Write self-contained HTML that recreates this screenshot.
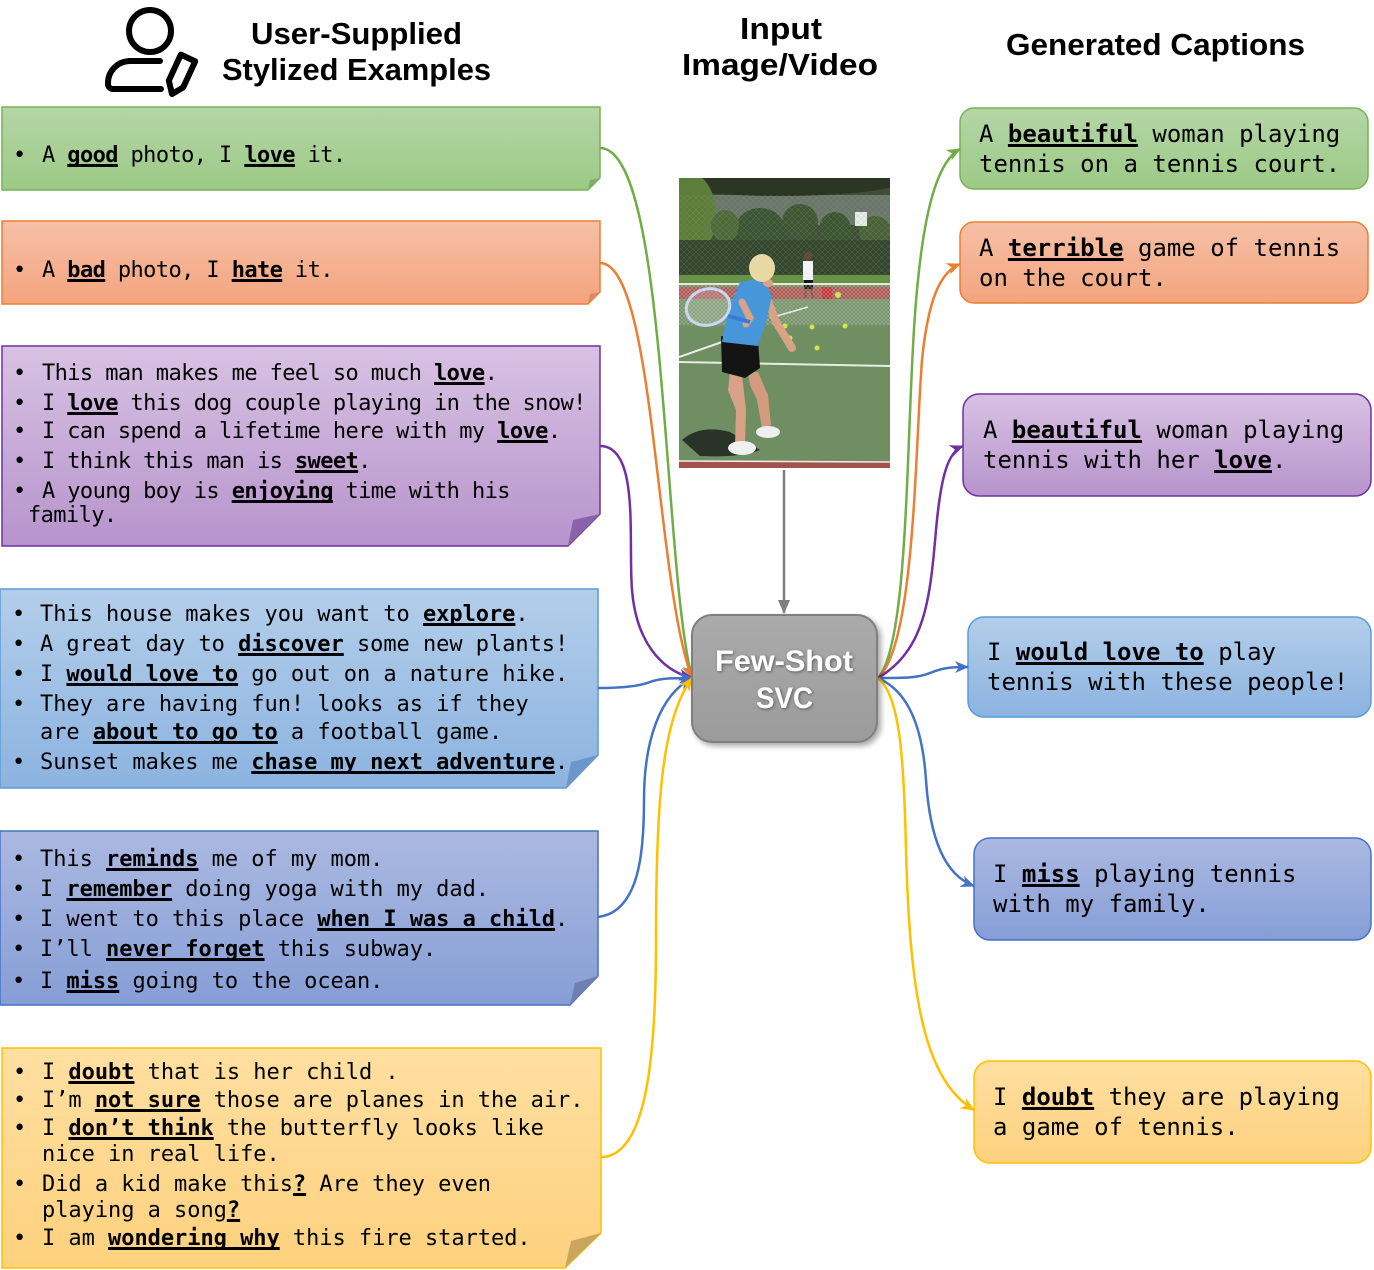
<!DOCTYPE html>
<html><head><meta charset="utf-8">
<style>
html,body{margin:0;padding:0;background:#fff;}
#wrap{position:relative;width:1374px;height:1270px;overflow:hidden;background:#fff;}
svg{position:absolute;left:0;top:0;}
.t{position:absolute;white-space:pre;font-family:"DejaVu Sans Mono","Liberation Mono",monospace;font-size:22px;line-height:22px;color:#000;}
.l1{letter-spacing:-0.6px;}
.l2{letter-spacing:-0.04px;}
.r{font-size:24px;line-height:24px;}
u{text-decoration:underline;text-decoration-thickness:3px;text-underline-offset:2px;text-decoration-skip-ink:none;font-weight:bold;}
</style></head>
<body><div id="wrap">
<svg width="1374" height="1270" viewBox="0 0 1374 1270">
<defs>
<linearGradient id="gG" x1="0" y1="0" x2="0" y2="1"><stop offset="0" stop-color="#b5d6a6"/><stop offset="1" stop-color="#9cca86"/></linearGradient>
<linearGradient id="gO" x1="0" y1="0" x2="0" y2="1"><stop offset="0" stop-color="#f6c0a7"/><stop offset="1" stop-color="#f4a47e"/></linearGradient>
<linearGradient id="gP" x1="0" y1="0" x2="0" y2="1"><stop offset="0" stop-color="#d8c2e3"/><stop offset="1" stop-color="#b794cc"/></linearGradient>
<linearGradient id="gB" x1="0" y1="0" x2="0" y2="1"><stop offset="0" stop-color="#b3ceea"/><stop offset="1" stop-color="#8cb3e0"/></linearGradient>
<linearGradient id="gB2" x1="0" y1="0" x2="0" y2="1"><stop offset="0" stop-color="#abb9e1"/><stop offset="1" stop-color="#869ed6"/></linearGradient>
<linearGradient id="gY" x1="0" y1="0" x2="0" y2="1"><stop offset="0" stop-color="#ffdfa1"/><stop offset="1" stop-color="#fdd17e"/></linearGradient>
<linearGradient id="gS" x1="0" y1="0" x2="0" y2="1"><stop offset="0" stop-color="#ababab"/><stop offset="1" stop-color="#9b9b9b"/></linearGradient>
<filter id="sh" x="-20%" y="-20%" width="150%" height="150%"><feDropShadow dx="3" dy="3" stdDeviation="3" flood-color="#000" flood-opacity="0.35"/></filter>
<filter id="tsh" x="-20%" y="-20%" width="150%" height="150%"><feDropShadow dx="1" dy="1" stdDeviation="1.5" flood-color="#000" flood-opacity="0.45"/></filter>
<pattern id="net" width="4" height="4" patternUnits="userSpaceOnUse"><path d="M0,0 L4,4 M4,0 L0,4" stroke="#dcdcdc" stroke-width="0.6" opacity="0.55"/></pattern>
<pattern id="fence" width="6" height="6" patternUnits="userSpaceOnUse"><path d="M0,0 L6,6 M6,0 L0,6" stroke="#9aa39a" stroke-width="0.5" opacity="0.35"/></pattern>
<clipPath id="imgc"><rect x="679" y="178" width="211" height="290"/></clipPath>
<marker id="aG" markerUnits="userSpaceOnUse" markerWidth="14" markerHeight="12" viewBox="0 0 14 12" refX="13" refY="6" orient="auto"><path d="M0,0 L14,6 L0,12 L4,6 Z" fill="#70ad47"/></marker>
<marker id="aO" markerUnits="userSpaceOnUse" markerWidth="14" markerHeight="12" viewBox="0 0 14 12" refX="13" refY="6" orient="auto"><path d="M0,0 L14,6 L0,12 L4,6 Z" fill="#ed7d31"/></marker>
<marker id="aP" markerUnits="userSpaceOnUse" markerWidth="14" markerHeight="12" viewBox="0 0 14 12" refX="13" refY="6" orient="auto"><path d="M0,0 L14,6 L0,12 L4,6 Z" fill="#7030a0"/></marker>
<marker id="aB" markerUnits="userSpaceOnUse" markerWidth="14" markerHeight="12" viewBox="0 0 14 12" refX="13" refY="6" orient="auto"><path d="M0,0 L14,6 L0,12 L4,6 Z" fill="#4472c4"/></marker>
<marker id="aY" markerUnits="userSpaceOnUse" markerWidth="14" markerHeight="12" viewBox="0 0 14 12" refX="13" refY="6" orient="auto"><path d="M0,0 L14,6 L0,12 L4,6 Z" fill="#ffc000"/></marker>
<marker id="aK" markerUnits="userSpaceOnUse" markerWidth="14" markerHeight="12" viewBox="0 0 14 12" refX="13" refY="6" orient="auto"><path d="M0,0 L14,6 L0,12 Z" fill="#7f7f7f"/></marker>
</defs>

<!-- header icon -->
<circle cx="150" cy="31" r="21" fill="none" stroke="#000" stroke-width="6"/>
<path d="M160,61 H130 A22,22 0 0 0 108,83 V84 A5,5 0 0 0 113,89 H161" fill="none" stroke="#000" stroke-width="6" stroke-linecap="round" stroke-linejoin="round"/>
<path d="M180.8,54.6 L195.2,61.4 L183.2,87.4 L172,94 L168.8,80.6 Z" fill="none" stroke="#000" stroke-width="6" stroke-linejoin="round"/>

<!-- headers -->
<g font-family="Liberation Sans, Arial, sans-serif" font-weight="bold" font-size="31" fill="#000">
<text x="251" y="44" textLength="211" lengthAdjust="spacingAndGlyphs">User-Supplied</text>
<text x="222" y="80" textLength="269" lengthAdjust="spacingAndGlyphs">Stylized Examples</text>
<text x="740" y="39" textLength="82" lengthAdjust="spacingAndGlyphs">Input</text>
<text x="682" y="75" textLength="196" lengthAdjust="spacingAndGlyphs">Image/Video</text>
<text x="1006" y="55" textLength="299" lengthAdjust="spacingAndGlyphs">Generated Captions</text>
</g>

<!-- left boxes -->
<polygon points="2,107 600,107 600,178 588,190 2,190" fill="url(#gG)" stroke="#77b255" stroke-width="1.5"/>
<polygon points="588,190 590,180 600,178" fill="#7fae65"/>
<polygon points="2,221 600,221 600,292 588,304 2,304" fill="url(#gO)" stroke="#ed7d31" stroke-width="1.5"/>
<polygon points="588,304 590,294 600,292" fill="#d98a62"/>
<polygon points="2,346 600,346 600,514 568,546 2,546" fill="url(#gP)" stroke="#7030a0" stroke-width="1.5"/>
<polygon points="568,546 573,520 600,514" fill="#8b62a9"/>
<polygon points="0,589 598,589 598,755 566,788 0,788" fill="url(#gB)" stroke="#5b9bd5" stroke-width="1.5"/>
<polygon points="566,788 571,762 598,755" fill="#6f96c8"/>
<polygon points="0,831 598,831 598,976 570,1005 0,1005" fill="url(#gB2)" stroke="#4472c4" stroke-width="1.5"/>
<polygon points="570,1005 575,983 598,976" fill="#6e80b2"/>
<polygon points="2,1048 601,1048 601,1233 565,1268 2,1268" fill="url(#gY)" stroke="#ffc000" stroke-width="1.5"/>
<polygon points="565,1268 571,1241 601,1233" fill="#c9a55d"/>

<!-- right boxes -->
<rect x="960" y="108" width="408" height="81" rx="14" fill="url(#gG)" stroke="#77b255" stroke-width="1.5"/>
<rect x="960" y="222" width="408" height="81" rx="14" fill="url(#gO)" stroke="#ed7d31" stroke-width="1.5"/>
<rect x="963" y="394" width="408" height="102" rx="16" fill="url(#gP)" stroke="#7030a0" stroke-width="1.5"/>
<rect x="968" y="617" width="403" height="100" rx="16" fill="url(#gB)" stroke="#5b9bd5" stroke-width="1.5"/>
<rect x="974" y="838" width="397" height="102" rx="16" fill="url(#gB2)" stroke="#4472c4" stroke-width="1.5"/>
<rect x="974" y="1061" width="397" height="102" rx="16" fill="url(#gY)" stroke="#ffc000" stroke-width="1.5"/>

<!-- tennis image -->
<g clip-path="url(#imgc)">
<rect x="679" y="178" width="211" height="290" fill="#6f8f62"/>
<rect x="679" y="178" width="211" height="106" fill="#3f4f35"/>
<rect x="700" y="195" width="190" height="30" fill="#8e9894" opacity="0.55"/>
<ellipse cx="780" cy="180" rx="125" ry="16" fill="#2c3625"/>
<ellipse cx="690" cy="215" rx="26" ry="42" fill="#5d7d3a"/>
<ellipse cx="760" cy="228" rx="24" ry="20" fill="#3a5531"/>
<ellipse cx="725" cy="226" rx="14" ry="16" fill="#4d6b38"/>
<ellipse cx="800" cy="222" rx="18" ry="18" fill="#3d5633"/>
<ellipse cx="835" cy="230" rx="16" ry="18" fill="#3c5633"/>
<ellipse cx="875" cy="232" rx="16" ry="16" fill="#4a6238"/>
<rect x="855" y="212" width="12" height="14" fill="#e6ebe8"/>
<rect x="679" y="240" width="211" height="38" fill="#33472e"/>
<rect x="679" y="195" width="211" height="85" fill="url(#fence)"/>
<rect x="679" y="275" width="211" height="11" fill="#6a9246"/>
<rect x="679" y="287" width="211" height="12" fill="#a9504a"/>
<!-- back person -->
<circle cx="808" cy="256" r="4" fill="#6b4a3a"/>
<rect x="803" y="261" width="10" height="19" fill="#f2f2f2"/>
<rect x="804" y="280" width="9" height="9" fill="#151515"/>
<line x1="806" y1="289" x2="805" y2="298" stroke="#6b4a3a" stroke-width="2"/>
<line x1="811" y1="289" x2="813" y2="298" stroke="#6b4a3a" stroke-width="2"/>
<rect x="822" y="287" width="10" height="12" fill="#c0282c"/>
<rect x="679" y="284" width="211" height="41" fill="url(#net)"/>
<line x1="679" y1="284" x2="890" y2="284" stroke="#e6e6e6" stroke-width="2"/>
<line x1="679" y1="325" x2="890" y2="325" stroke="#7d9a70" stroke-width="1"/>
<line x1="679" y1="362" x2="890" y2="366" stroke="#e8ece6" stroke-width="2"/>
<line x1="679" y1="357" x2="722" y2="342" stroke="#e8ece6" stroke-width="2"/>
<line x1="770" y1="318" x2="808" y2="307" stroke="#e8ece6" stroke-width="1.5"/>
<g fill="#d6e34a"><circle cx="778" cy="325" r="2.5"/><circle cx="785" cy="326" r="2.5"/><circle cx="812" cy="327" r="2.5"/><circle cx="845" cy="326" r="2.5"/><circle cx="790" cy="338" r="2.5"/><circle cx="817" cy="348" r="2.5"/><circle cx="838" cy="295" r="3"/></g>
<path d="M682,440 Q700,424 730,432 L760,450 Q740,458 700,456 Z" fill="#2a3328"/>
<rect x="679" y="461" width="211" height="7" fill="#a5524c"/>
<line x1="679" y1="461" x2="890" y2="462" stroke="#efefef" stroke-width="1.5"/>
<!-- main person -->
<polygon points="730,372 742,375 746,410 745,445 735,445 736,410 728,390" fill="#d9a186"/>
<polygon points="748,372 758,372 768,395 771,425 762,428 757,400 750,385" fill="#d39a80"/>
<ellipse cx="742" cy="448" rx="14" ry="7" fill="#f0f0f0"/>
<ellipse cx="768" cy="432" rx="12" ry="6" fill="#eeeeee"/>
<polygon points="721,336 758,340 760,368 745,378 722,372" fill="#141414"/>
<polyline points="767,298 776,322 792,348" fill="none" stroke="#d9a186" stroke-width="8" stroke-linecap="round"/>
<polygon points="740,282 762,278 772,296 766,322 758,346 722,342 728,310" fill="#4896da"/>
<ellipse cx="768" cy="283" rx="5" ry="4" fill="#d9a186"/>
<ellipse cx="762" cy="268" rx="13" ry="14" fill="#e8d8a4"/>
<polyline points="742,302 750,318 746,324" fill="none" stroke="#d9a186" stroke-width="7" stroke-linecap="round"/>
<ellipse cx="708" cy="307" rx="22" ry="18" transform="rotate(-15 708 307)" fill="#ffffff" fill-opacity="0.15" stroke="#c8d8f0" stroke-width="3"/>
<line x1="728" y1="316" x2="750" y2="322" stroke="#3a7bd5" stroke-width="4"/>
</g>

<!-- gray arrow -->
<line x1="784" y1="470" x2="784" y2="613" stroke="#7f7f7f" stroke-width="2.5" marker-end="url(#aK)"/>

<!-- left connectors -->
<g fill="none" stroke-width="2.5">
<path d="M600,148 C668,148 662,560 692,678" stroke="#70ad47" marker-end="url(#aG)"/>
<path d="M600,263 C655,263 655,580 692,678" stroke="#ed7d31" marker-end="url(#aO)"/>
<path d="M600,446 C640,446 628,540 632,590 C636,640 660,670 692,678" stroke="#7030a0" marker-end="url(#aP)"/>
<path d="M598,688 C625,688 640,686 650,682 C660,678 675,678 692,678" stroke="#4472c4" marker-end="url(#aB)"/>
<path d="M598,917 C640,912 644,850 644,800 C644,740 660,695 692,678" stroke="#4472c4" marker-end="url(#aB)"/>
<path d="M601,1157 C648,1157 656,1050 656,940 C656,800 662,720 692,678" stroke="#ffc000" marker-end="url(#aY)"/>
<!-- right connectors -->
<path d="M878,678 C912,640 905,400 918,280 C926,200 940,160 960,149" stroke="#70ad47" marker-end="url(#aG)"/>
<path d="M878,678 C915,645 915,450 922,360 C928,300 940,272 960,264" stroke="#ed7d31" marker-end="url(#aO)"/>
<path d="M878,678 C925,650 930,600 936,530 C941,475 948,452 963,446" stroke="#7030a0" marker-end="url(#aP)"/>
<path d="M878,678 C905,678 918,678 930,673 C942,668 950,667 968,667" stroke="#4472c4" marker-end="url(#aB)"/>
<path d="M878,678 C905,690 922,720 926,780 C930,840 945,875 974,886" stroke="#4472c4" marker-end="url(#aB)"/>
<path d="M878,678 C900,695 904,760 906,850 C910,1000 925,1080 974,1110" stroke="#ffc000" marker-end="url(#aY)"/>
</g>

<!-- SVC box -->
<rect x="692" y="615" width="185" height="127" rx="20" fill="url(#gS)" stroke="#7f7f7f" stroke-width="2" filter="url(#sh)"/>
<g font-family="Liberation Sans, Arial, sans-serif" font-weight="bold" font-size="30" fill="#fff" filter="url(#tsh)">
<text x="715" y="671" textLength="138" lengthAdjust="spacingAndGlyphs">Few-Shot</text>
<text x="756" y="708" textLength="57" lengthAdjust="spacingAndGlyphs">SVC</text>
</g>
</svg>

<!-- left texts: green -->
<div class="t l1" style="left:13px;top:145.4px">•</div>
<div class="t l1" style="left:42px;top:145.4px">A <u>good</u> photo, I <u>love</u> it.</div>
<!-- orange -->
<div class="t l1" style="left:13px;top:260.4px">•</div>
<div class="t l1" style="left:42px;top:260.4px">A <u>bad</u> photo, I <u>hate</u> it.</div>
<!-- purple -->
<div class="t l1" style="left:13px;top:363.4px">•</div>
<div class="t l1" style="left:42px;top:363.4px">This man makes me feel so much <u>love</u>.</div>
<div class="t l1" style="left:13px;top:393.4px">•</div>
<div class="t l1" style="left:42px;top:393.4px">I <u>love</u> this dog couple playing in the snow!</div>
<div class="t l1" style="left:13px;top:421.4px">•</div>
<div class="t l1" style="left:42px;top:421.4px">I can spend a lifetime here with my <u>love</u>.</div>
<div class="t l1" style="left:13px;top:451.4px">•</div>
<div class="t l1" style="left:42px;top:451.4px">I think this man is <u>sweet</u>.</div>
<div class="t l1" style="left:13px;top:481.4px">•</div>
<div class="t l1" style="left:42px;top:481.4px">A young boy is <u>enjoying</u> time with his</div>
<div class="t l1" style="left:28px;top:505.4px">family.</div>
<!-- blue 1 -->
<div class="t l2" style="left:12px;top:604.4px">•</div>
<div class="t l2" style="left:40px;top:604.4px">This house makes you want to <u>explore</u>.</div>
<div class="t l2" style="left:12px;top:634.4px">•</div>
<div class="t l2" style="left:40px;top:634.4px">A great day to <u>discover</u> some new plants!</div>
<div class="t l2" style="left:12px;top:664.4px">•</div>
<div class="t l2" style="left:40px;top:664.4px">I <u>would love to</u> go out on a nature hike.</div>
<div class="t l2" style="left:12px;top:694.4px">•</div>
<div class="t l2" style="left:40px;top:694.4px">They are having fun! looks as if they</div>
<div class="t l2" style="left:40px;top:722.4px">are <u>about to go to</u> a football game.</div>
<div class="t l2" style="left:12px;top:752.4px">•</div>
<div class="t l2" style="left:40px;top:752.4px">Sunset makes me <u>chase my next adventure</u>.</div>
<!-- blue 2 -->
<div class="t l2" style="left:12px;top:849.4px">•</div>
<div class="t l2" style="left:40px;top:849.4px">This <u>reminds</u> me of my mom.</div>
<div class="t l2" style="left:12px;top:879.4px">•</div>
<div class="t l2" style="left:40px;top:879.4px">I <u>remember</u> doing yoga with my dad.</div>
<div class="t l2" style="left:12px;top:909.4px">•</div>
<div class="t l2" style="left:40px;top:909.4px">I went to this place <u>when I was a child</u>.</div>
<div class="t l2" style="left:12px;top:939.4px">•</div>
<div class="t l2" style="left:40px;top:939.4px">I’ll <u>never forget</u> this subway.</div>
<div class="t l2" style="left:12px;top:971.4px">•</div>
<div class="t l2" style="left:40px;top:971.4px">I <u>miss</u> going to the ocean.</div>
<!-- yellow -->
<div class="t l2" style="left:13px;top:1062.4px">•</div>
<div class="t l2" style="left:42px;top:1062.4px">I <u>doubt</u> that is her child .</div>
<div class="t l2" style="left:13px;top:1090.4px">•</div>
<div class="t l2" style="left:42px;top:1090.4px">I’m <u>not sure</u> those are planes in the air.</div>
<div class="t l2" style="left:13px;top:1118.4px">•</div>
<div class="t l2" style="left:42px;top:1118.4px">I <u>don’t think</u> the butterfly looks like</div>
<div class="t l2" style="left:42px;top:1144.4px">nice in real life.</div>
<div class="t l2" style="left:13px;top:1174.4px">•</div>
<div class="t l2" style="left:42px;top:1174.4px">Did a kid make this<u>?</u> Are they even</div>
<div class="t l2" style="left:42px;top:1200.4px">playing a song<u>?</u></div>
<div class="t l2" style="left:13px;top:1228.4px">•</div>
<div class="t l2" style="left:42px;top:1228.4px">I am <u>wondering why</u> this fire started.</div>

<!-- right texts -->
<div class="t r" style="left:979px;top:121.7px">A <u>beautiful</u> woman playing</div>
<div class="t r" style="left:979px;top:151.7px">tennis on a tennis court.</div>
<div class="t r" style="left:979px;top:235.7px">A <u>terrible</u> game of tennis</div>
<div class="t r" style="left:979px;top:265.7px">on the court.</div>
<div class="t r" style="left:983px;top:417.7px">A <u>beautiful</u> woman playing</div>
<div class="t r" style="left:983px;top:447.7px">tennis with her <u>love</u>.</div>
<div class="t r" style="left:987px;top:639.7px">I <u>would love to</u> play</div>
<div class="t r" style="left:987px;top:669.7px">tennis with these people!</div>
<div class="t r" style="left:993px;top:861.7px">I <u>miss</u> playing tennis</div>
<div class="t r" style="left:993px;top:891.7px">with my family.</div>
<div class="t r" style="left:993px;top:1084.7px">I <u>doubt</u> they are playing</div>
<div class="t r" style="left:993px;top:1114.7px">a game of tennis.</div>
</div></body></html>
